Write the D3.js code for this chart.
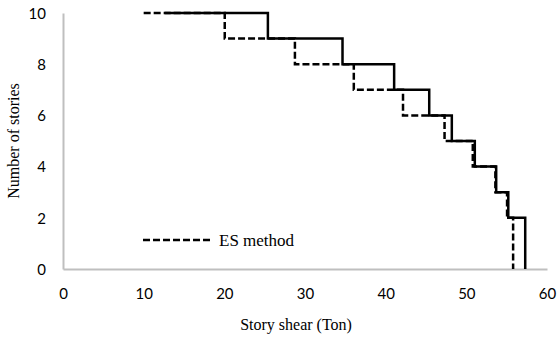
<!DOCTYPE html>
<html>
<head>
<meta charset="utf-8">
<script src="https://cdn.jsdelivr.net/npm/d3@7/dist/d3.min.js"></script>
<style>
  body { margin: 0; background: #fff; }
  .tick text { font-family: Lato, "Open Sans", sans-serif; font-size: 15px; fill: #000; }
  .title { font-family: "Liberation Serif", "Times New Roman", serif; font-size: 16px; fill: #000; }
</style>
</head>
<body>
<svg id="root" width="557" height="338"></svg>
<script>
// story shear (Ton) at each step, story level
const storyLevels = [10, 9, 8, 7, 6, 5, 4, 3, 2, 0]
const exactShear = [12.6, 25.4, 34.65, 41.05, 45.4, 48.2, 51.05, 53.7, 55.2, 57.3]
const esShear = [10, 20.05, 28.75, 36.05, 42.15, 47.3, 50.8, 53.6, 55.05, 55.8]
const xTicks = [0, 10, 20, 30, 40, 50, 60]
const yTicks = [0, 2, 4, 6, 8, 10]

const root = d3.select('#root')
const x = d3.scaleLinear().domain([0, 60]).range([63, 547])
const y = d3.scaleLinear().domain([0, 10]).range([269, 13])

// axes: gray lines, no tick marks
const xAxis = root.append('g')
  .attr('transform', `translate(0,${y(0)})`)
  .call(d3.axisBottom(x).tickValues(xTicks).tickSize(0).tickPadding(19))
const yAxis = root.append('g')
  .attr('transform', `translate(${x(0)},0)`)
  .call(d3.axisLeft(y).tickValues(yTicks).tickSize(0).tickPadding(17))
root.selectAll('.domain').attr('stroke', '#bfbfbf').attr('stroke-width', 2)
yAxis.selectAll('.tick text').attr('dy', '0.35em')

const line = d3.line()
  .x(d => x(d[0]))
  .y(d => y(d[1]))
  .curve(d3.curveStepAfter)

root.append('path')
  .datum(exactShear.map((v, i) => [v, storyLevels[i]]))
  .attr('d', line)
  .attr('fill', 'none')
  .attr('stroke', '#000')
  .attr('stroke-width', 2.5)

root.append('path')
  .datum(esShear.map((v, i) => [v, storyLevels[i]]))
  .attr('d', line)
  .attr('fill', 'none')
  .attr('stroke', '#000')
  .attr('stroke-width', 2.5)
  .attr('stroke-dasharray', '7,3')

// legend
const legend = root.append('g').attr('transform', 'translate(143,240)')
legend.append('line')
  .attr('x1', 0).attr('x2', 70)
  .attr('stroke', '#000').attr('stroke-width', 2.5)
  .attr('stroke-dasharray', '7,3')
legend.append('text')
  .attr('class', 'title')
  .attr('x', 76).attr('y', 5.5)
  .style('font-size', '17px')
  .text('ES method')

root.append('text')
  .attr('class', 'title')
  .attr('x', 296).attr('y', 330)
  .attr('text-anchor', 'middle')
  .text('Story shear (Ton)')

root.append('text')
  .attr('class', 'title')
  .attr('transform', 'translate(19,141) rotate(-90)')
  .attr('text-anchor', 'middle')
  .text('Number of stories')
</script>
</body>
</html>
